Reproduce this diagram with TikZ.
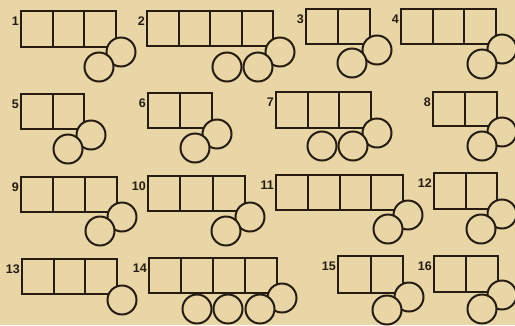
\documentclass[tikz,border=0pt]{standalone}
\usepackage{fontspec}
\setmainfont{Liberation Sans}
\definecolor{paper}{RGB}{233,214,166}
\definecolor{ink}{RGB}{38,28,18}
\begin{document}
\begin{tikzpicture}[x=1pt, y=-1pt,
  box/.style={draw=ink, line width=2pt, line join=miter},
  wheel/.style={draw=ink, fill=paper, line width=2pt},
  numlbl/.style={anchor=east, inner sep=0pt, text=ink, font=\fontsize{12.5}{12.5}\selectfont\bfseries}]
\fill[paper] (0,0) rectangle (515,325);
\useasboundingbox (0,0) rectangle (515,325);
% wagons: number / left / top / right / bottom / cells
\foreach \n/\xa/\ya/\xb/\yb/\k in {1/21/11/116/47/3, 2/147/11/273/46/4, 3/306/9/370/44/2, 4/401/9/496/44/3,
  5/21/94/84/129/2, 6/148/93/212/128/2, 7/276/92/371/128/3, 8/433/92/497/126/2,
  9/21/177/117/212/3, 10/148/176/245/211/3, 11/276/175/403/210/4, 12/434/173/497/209/2,
  13/22/259/117/294/3, 14/149/258/277/293/4, 15/338/256/403/293/2, 16/434/256/498/292/2} {
  \draw[box] (\xa,\ya) rectangle (\xb,\yb);
  \pgfmathsetmacro\w{(\xb-\xa)/\k}
  \pgfmathtruncatemacro\km{\k-1}
  \foreach \i in {1,...,\km} {
    \pgfmathtruncatemacro\xc{round(\xa+\i*\w)}
    \draw[box] (\xc,\ya) -- (\xc,\yb);
  }
  \node[numlbl] (lbl\n) at (\xa-2,\ya+10) {\n};
}
% raised wheels first, then the lower ones on top
\foreach \x/\y in {121/52, 280/52, 377/50, 502/49, 91/135, 217/134, 377/133, 502/132,
  122/217, 250/217, 408/215, 502/214, 122/300, 282/298, 409/297, 502/295}
  \draw[wheel] (\x,\y) circle (14.5);
\foreach \x/\y in {99/67, 227/67, 258/67, 352/63, 482/64, 68/149, 195/148, 322/146, 353/146, 482/146,
  100/231, 226/231, 388/229, 481/229, 197/309, 228/309, 260/309, 387/310, 482/309}
  \draw[wheel] (\x,\y) circle (14.5);
\end{tikzpicture}
\end{document}
